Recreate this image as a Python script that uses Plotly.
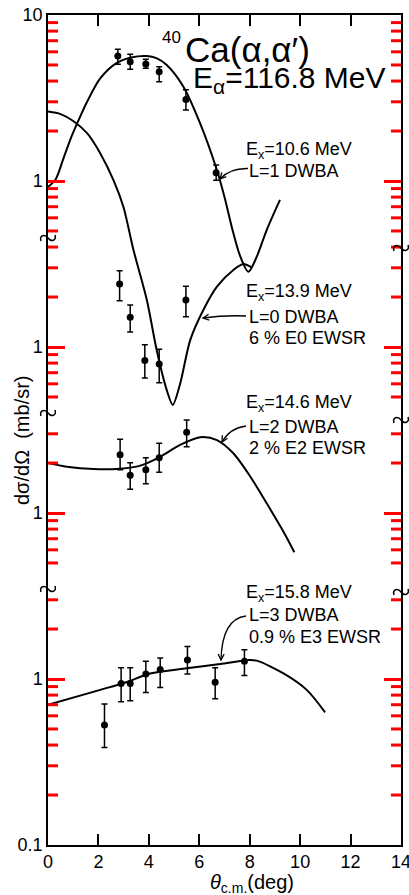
import numpy as np
import plotly.graph_objects as go

# ---------------- measured cross sections (mb/sr) ----------------
# Ex = 10.6 MeV
ang_106 = [2.77, 3.26, 3.88, 4.41, 5.47, 6.67]
xs_106 = [5.66, 5.23, 5.07, 4.55, 3.10, 1.12]
hi_106 = [6.21, 5.80, 5.41, 4.88, 3.54, 1.25]
lo_106 = [5.05, 4.71, 4.77, 3.96, 2.68, 1.01]

# Ex = 13.9 MeV
ang_139 = [2.84, 3.26, 3.84, 4.41, 5.47]
xs_139 = [2.40, 1.51, 0.83, 0.79, 1.92]
hi_139 = [2.88, 1.79, 1.03, 0.97, 2.32]
lo_139 = [1.90, 1.23, 0.65, 0.61, 1.52]

# Ex = 14.6 MeV
ang_146 = [2.86, 3.26, 3.88, 4.41, 5.50]
xs_146 = [2.24, 1.69, 1.82, 2.15, 3.06]
hi_146 = [2.78, 2.01, 2.15, 2.63, 3.63]
lo_146 = [1.82, 1.39, 1.50, 1.76, 2.51]

# Ex = 15.8 MeV
ang_158 = [2.24, 2.90, 3.26, 3.88, 4.45, 5.53, 6.63, 7.79]
xs_158 = [0.528, 0.94, 0.94, 1.07, 1.14, 1.30, 0.955, 1.28]
hi_158 = [0.706, 1.17, 1.17, 1.28, 1.34, 1.57, 1.17, 1.50]
lo_158 = [0.387, 0.73, 0.74, 0.83, 0.89, 1.07, 0.76, 1.05]

# ---------------- DWBA curves ----------------
th_L1 = [0, 0.3, 0.6, 0.9, 1.2, 1.55, 2.07, 2.73, 3.3, 3.92, 4.3, 4.71, 5.37,
         6.03, 6.70, 7.0, 7.3, 7.6, 7.95, 8.28, 8.68, 9.2]
dw_L1 = [0.92, 1.02, 1.35, 1.8, 2.3, 3.0, 4.15, 5.15, 5.55, 5.66, 5.5, 5.0, 3.7,
         2.23, 1.16, 0.80, 0.52, 0.36, 0.284, 0.35, 0.51, 0.77]

th_L0 = [0, 0.5, 1.0, 1.55, 2.07, 2.6, 2.99, 3.39, 3.92, 4.31, 4.71, 4.95,
         5.24, 5.64, 6.16, 6.70, 7.35, 7.75, 8.1]
dw_L0 = [26.2, 25.3, 23.0, 19.4, 14.7, 10.1, 7.0, 3.84, 1.92, 0.96, 0.55, 0.448,
         0.60, 1.10, 1.67, 2.31, 2.91, 3.16, 3.0]

th_L2 = [0, 0.75, 1.81, 2.86, 3.66, 4.45, 5.24, 6.03, 6.7, 7.35, 8.02, 8.68,
         9.34, 9.77]
dw_L2 = [2.00, 1.90, 1.84, 1.85, 1.93, 2.18, 2.57, 2.86, 2.75, 2.29, 1.66, 1.14,
         0.77, 0.58]

th_L3 = [0, 2.07, 3.13, 4.05, 5.5, 6.83, 7.95, 8.28, 9.34, 10.26, 10.99]
dw_L3 = [0.70, 0.86, 0.96, 1.08, 1.16, 1.23, 1.30, 1.29, 1.08, 0.86, 0.63]

# each excitation is shifted down by a decade on the common log axis
offsets = [1.0, 0.1, 0.01, 0.001]

x_ticks = [0, 2, 4, 6, 8, 10, 12, 14]
y_major = [10, 1, 0.1, 0.01, 0.001, 0.0001]
y_major_text = ["10", "1", "1", "1", "1", "0.1"]
y_range_log = [-4, 1]

# short ticks inside each decade segment
y_minor = [m * 1.0 for m in range(2, 10)]
y_minor += [m * 0.1 for m in (5, 6, 7, 8, 9, 2, 3, 4)]
y_minor += [m * 0.01 for m in (5, 6, 7, 8, 9, 2, 3)]
y_minor += [m * 0.001 for m in (5, 6, 7, 8, 9, 2, 3)]
y_minor += [m * 0.0001 for m in (2, 3, 4, 5, 6, 7, 8, 9)]

FONT = "Liberation Sans"
INK = "black"
TICK = "red"

# plot-area geometry in pixels (for decorations only)
W, H = 409, 895
L_, R_, T_, B_ = 48, 8, 15, 50
PW, PH = W - L_ - R_, H - T_ - B_


def px(xp, yp):
    return float((xp - L_) / PW), float((H - B_ - yp) / PH)


def pstr(xp, yp):
    a, b = px(xp, yp)
    return f"{a:.5f},{b:.5f}"


fig = go.Figure()

sets = [
    (ang_106, xs_106, hi_106, lo_106, th_L1, dw_L1),
    (ang_139, xs_139, hi_139, lo_139, th_L0, dw_L0),
    (ang_146, xs_146, hi_146, lo_146, th_L2, dw_L2),
    (ang_158, xs_158, hi_158, lo_158, th_L3, dw_L3),
]

for (a, v, hi, lo, th, dw), k in zip(sets, offsets):
    v = np.array(v) * k
    hi = np.array(hi) * k
    lo = np.array(lo) * k
    fig.add_trace(go.Scatter(
        x=th, y=(np.array(dw) * k).tolist(), mode="lines",
        line=dict(color=INK, width=2, shape="spline", smoothing=0.8),
        hoverinfo="skip", showlegend=False))
    fig.add_trace(go.Scatter(
        x=a, y=v.tolist(), mode="markers",
        marker=dict(color=INK, size=7),
        error_y=dict(type="data", symmetric=False, array=(hi - v).tolist(),
                     arrayminus=(v - lo).tolist(), color=INK, thickness=1.5, width=3),
        showlegend=False))

fig.update_layout(
    template="none",
    width=W, height=H,
    margin=dict(l=L_, r=R_, t=T_, b=B_),
    paper_bgcolor="white", plot_bgcolor="white",
    font=dict(family=FONT, color=INK, size=18),
    xaxis=dict(
        range=[0, 14], tickmode="array", tickvals=x_ticks,
        ticktext=[str(t) for t in x_ticks], ticklabeloverflow="allow",
        ticks="inside", ticklen=11, tickwidth=2, tickcolor=INK,
        showline=True, linecolor=INK, linewidth=1.5, mirror="allticks",
        automargin=False, showgrid=False, zeroline=False, tickfont=dict(size=18)),
    yaxis=dict(
        type="log", range=y_range_log, tickmode="array", tickvals=y_major,
        ticktext=y_major_text, ticks="inside", ticklen=17, tickwidth=3,
        tickcolor=TICK, showline=True, linecolor=INK, linewidth=1.5,
        mirror="allticks", automargin=False, showgrid=False, zeroline=False,
        tickfont=dict(size=18)),
)


def y_frac(v):
    lo, hi = y_range_log
    return float((np.log10(v) - lo) / (hi - lo))


shapes = []
# short ticks on both vertical sides, pointing inward
for v in y_minor:
    yf = y_frac(v)
    for x0, x1 in ((0.0, 10.0 / PW), (1.0 - 10.0 / PW, 1.0)):
        shapes.append(dict(type="line", xref="paper", yref="paper",
                           x0=float(x0), x1=float(x1), y0=yf, y1=yf,
                           line=dict(color=TICK, width=3)))

# axis break symbols
for (xb, yb) in [(48, 238), (48, 413), (48, 589), (401, 248), (401, 420), (401, 592)]:
    path = ("M " + pstr(xb - 7, yb + 3) + " C " + pstr(xb - 9, yb - 3) + " " +
            pstr(xb - 3, yb - 4) + " " + pstr(xb, yb) + " C " + pstr(xb + 3, yb + 4) +
            " " + pstr(xb + 9, yb + 3) + " " + pstr(xb + 7, yb - 3))
    shapes.append(dict(type="path", xref="paper", yref="paper", path=path,
                       line=dict(color=INK, width=1.5)))

# curved pointers from the labels to the curves
pointers = [
    ((248, 168.5), (230, 168), (220, 179)),
    ((246, 316), (225, 315), (203, 318)),
    ((246, 426), (230, 428), (222, 442)),
    ((246, 616), (222, 619), (221, 660)),
]
for p0, c, p1 in pointers:
    shapes.append(dict(type="path", xref="paper", yref="paper",
                       path="M " + pstr(*p0) + " Q " + pstr(*c) + " " + pstr(*p1),
                       line=dict(color=INK, width=1.3)))
    d = np.array(p1, dtype=float) - np.array(c, dtype=float)
    d = d / np.linalg.norm(d)
    n = np.array([-d[1], d[0]])
    b1 = np.array(p1) - 6 * d + 3 * n
    b2 = np.array(p1) - 6 * d - 3 * n
    shapes.append(dict(type="path", xref="paper", yref="paper",
                       path="M " + pstr(*b1) + " L " + pstr(*p1) + " L " + pstr(*b2),
                       line=dict(color=INK, width=1.3)))
fig.update_layout(shapes=shapes)

ann = []


def text(xp, yp, s, size=18, anchor="left"):
    a, b = px(xp, yp)
    ann.append(dict(x=a, y=b, xref="paper", yref="paper", text=s, showarrow=False,
                    xanchor=anchor, yanchor="middle", font=dict(size=size)))


text(160, 37, "40", size=17)
text(183, 50, "Ca(α,α′)", size=35)
text(191, 80, "E<sub>α</sub>=116.8 MeV", size=30)

text(244, 150, "E<sub>x</sub>=10.6 MeV")
text(247, 171, "L=1 DWBA")
text(244, 292, "E<sub>x</sub>=13.9 MeV")
text(247, 317, "L=0 DWBA")
text(247, 338, "6 % E0 EWSR")
text(244, 403, "E<sub>x</sub>=14.6 MeV")
text(247, 427, "L=2 DWBA")
text(247, 448, "2 % E2 EWSR")
text(244, 593, "E<sub>x</sub>=15.8 MeV")
text(247, 615, "L=3 DWBA")
text(247, 637, "0.9 % E3 EWSR")

text(252, 883, "<i>θ</i><sub>c.m.</sub>(deg)", size=20, anchor="center")

a, b = px(22, 440)
ann.append(dict(x=a, y=b, xref="paper", yref="paper", text="dσ/dΩ  (mb/sr)",
                showarrow=False, textangle=-90, xanchor="center", yanchor="middle",
                font=dict(size=20)))
fig.update_layout(annotations=ann)

fig.write_html("out.html")
